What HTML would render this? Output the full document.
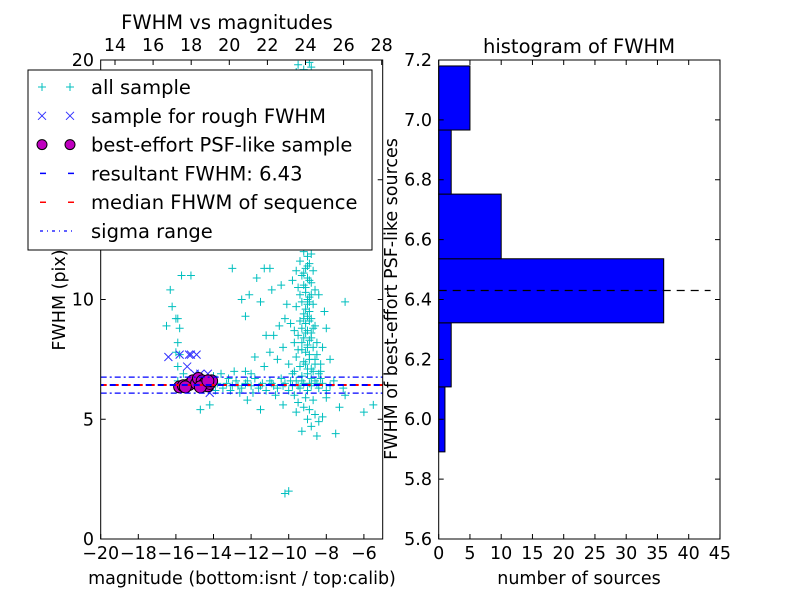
<!DOCTYPE html>
<html><head><meta charset="utf-8"><style>
body{margin:0;background:#fff}
svg{font-family:"DejaVu Sans","Liberation Sans",sans-serif}
</style></head><body>
<svg id="c" width="800" height="600" xmlns="http://www.w3.org/2000/svg"></svg>
<script>
const allSample=[[-16.3,10.4],[-16.2,9.7],[-16.0,9.2],[-15.9,9.2],[-16.5,8.9],[-15.8,8.8],[-15.9,8.2],[-15.8,7.7],[-16,7.8],[-15.7,11.0],[-15.2,11.0],[-15.9,7.2],[-15.6,6.9],[-15.9,6.6],
[-9.2,12.0],[-9.0,11.8],[-9.4,11.6],[-8.9,11.5],[-9.1,11.3],[-9.6,11.2],[-8.7,11.2],[-9.3,11.0],[-9.0,10.9],[-9.8,10.8],[-8.8,10.7],[-9.2,10.6],[-9.5,10.5],[-8.6,10.4],[-9.1,10.3],[-9.4,10.2],[-8.9,10.1],[-9.0,10.0],[-9.3,9.9],[-8.7,9.8],[-9.6,9.7],[-9.1,9.6],[-8.9,9.5],[-9.2,9.4],[-9.0,9.3],[-8.8,9.2],[-9.4,9.1],[-9.1,9.0],[-8.6,8.9],[-9.3,8.8],[-9.0,8.7],[-8.8,8.6],[-9.5,8.5],[-9.2,8.4],[-8.9,8.3],[-9.7,8.2],[-9.0,8.1],[-8.7,8.0],[-9.3,7.9],[-9.1,7.8],[-8.5,7.7],[-9.6,7.6],[-8.9,7.5],[-9.2,7.4],[-8.6,7.3],[-9.4,7.2],[-9.0,7.1],[-8.7,7.0],[-9.8,6.9],[-8.4,6.9],[-9.3,6.8],[-8.8,6.7],[-10.2,9.2],[-10.5,8.9],[-10.8,8.5],[-10.3,8.0],[-11.0,7.8],[-10.6,7.5],[-11.3,7.2],[-10.0,7.3],[-11.8,7.6],[-12.3,7.0],[-12.0,6.9],[-10.9,10.4],[-11.5,9.9],[-10.4,10.6],[-12.3,9.3],[-11.2,8.5],[-10.1,9.8],[-9.9,9.0],[-9.7,8.7],[-8.2,8.0],[-8.3,7.3],[-7.0,9.9],[-8.1,9.5],[-8.4,10.2],[-8.0,8.8],[-7.8,7.5],[-7.6,6.6],[-7.1,6.3],
[-9.0,11.4],[-8.9,10.8],[-9.1,10.5],[-8.8,10.2],[-9.0,9.8],[-8.9,9.1],[-9.1,8.6],[-8.8,8.4],[-9.0,8.0],[-8.9,7.7],[-9.1,7.3],[-8.8,7.1],[-9.0,6.9],[-8.9,9.9],[-9.2,9.2],[-8.7,8.8],[-9.3,8.2],[-8.6,7.5],[-9.5,7.9],[-8.5,8.2],[-9.7,7.0],[-8.3,7.0],[-9.2,11.1],[-8.8,11.9],
[-12.1,10.2],[-11.7,10.9],[-11.0,11.3],[-11.3,11.3],[-13.0,11.3],[-12.5,10.0],
[-13.8,6.5],[-13.5,6.3],[-13.2,6.7],[-13.0,6.4],[-12.8,6.6],[-12.5,6.3],[-12.3,6.5],[-12.0,6.4],[-11.8,6.7],[-11.6,6.3],[-11.4,6.5],[-11.2,6.2],[-11.0,6.6],[-10.8,6.4],[-10.6,6.3],[-10.4,6.7],[-10.2,6.5],[-10.0,6.2],[-9.8,6.4],[-9.6,6.6],[-9.4,6.3],[-9.2,6.5],[-9.0,6.2],[-8.8,6.4],[-8.6,6.6],[-8.4,6.3],[-8.2,6.5],[-8.0,6.2],[-7.8,6.4],[-13.6,6.9],[-12.9,7.0],[-13.9,6.2],[-14.0,6.8],[-12.6,6.1],[-11.9,6.1],[-10.7,6.0],[-9.7,6.0],[-9.1,5.9],[-8.7,5.8],[-13.1,6.2],
[-13.3,6.5],[-12.7,6.4],[-12.2,6.6],[-11.5,6.4],[-10.9,6.5],[-10.3,6.4],[-9.9,6.6],[-9.5,6.4],[-9.3,6.6],[-8.9,6.5],[-8.5,6.5],[-8.3,6.7],
[-9.5,5.7],[-9.2,5.5],[-8.9,5.4],[-8.6,5.2],[-9.0,5.0],[-8.4,4.9],[-8.8,4.7],[-8.5,4.3],[-7.5,4.4],[-9.6,5.3],[-10.3,5.6],[-11.5,5.4],[-12.2,5.8],[-14.2,5.6],[-14.7,5.4],[-6.0,5.3],[-5.5,5.6],[-7.3,5.5],[-7.0,6.0],[-8.0,5.9],[-10.2,1.9],[-10.0,2.0],[-9.3,4.5],[-8.2,5.1],
[-9.5,19.8],[-8.9,19.9],[-9.2,19.6],[-9.6,19.5],[-8.8,19.7]];
const roughSample=[[-16.4,7.6],[-15.8,7.7],[-15.3,7.7],[-15.2,7.7],[-14.9,7.7],[-15.4,7.2],[-15.0,6.9],[-14.7,6.9],[-14.3,6.9],[-14.9,6.6],[-14.6,6.4],[-14.2,6.1],[-14.6,6.3]];
const psfSample=[[-15.8,6.35],[-15.6,6.4],[-15.3,6.45],[-15.1,6.6],[-14.9,6.5],[-14.8,6.7],[-14.6,6.6],[-14.5,6.45],[-14.4,6.55],[-14.3,6.4],[-14.2,6.5],[-14.1,6.6],[-15.5,6.35],[-14.7,6.35],[-14.3,6.6]];
const resultFWHM=6.43, sigmaLow=6.09, sigmaHigh=6.76;
const binEdges=[5.891,6.108,6.322,6.536,6.752,6.966,7.18];
const binCounts=[1,2,36,10,2,5];
const xTicksBottom=[-20,-18,-16,-14,-12,-10,-8,-6];
const xTicksTop=[14,16,18,20,22,24,26,28];
const yTicksLeft=[0,5,10,15,20];
const xTicksHist=[0,5,10,15,20,25,30,35,40,45];
const yTicksHist=[5.6,5.8,6.0,6.2,6.4,6.6,6.8,7.0,7.2];

const NS="http://www.w3.org/2000/svg",svg=document.getElementById('c');
function el(t,a,p){const e=document.createElementNS(NS,t);for(const k in a)e.setAttribute(k,a[k]);(p||svg).appendChild(e);return e;}
function txt(s,a,p){const e=el('text',a,p);e.textContent=s;return e;}
const L={x0:100.7,x1:382.7,y0:539,y1:60};
const sx=v=>L.x0+(v+20)*18.8, sy=v=>L.y0-v*23.95;
const sxt=v=>381.7-(28-v)*19.05;
const H={x0:438.7,x1:720,y0:539,y1:60};
const hx=v=>H.x0+v*6.25, hy=v=>H.y0-(v-5.6)*299.4;
const FS=17.5;

const cp=el('clipPath',{id:'cl'});el('rect',{x:L.x0,y:L.y1,width:L.x1-L.x0,height:L.y0-L.y1},cp);
const gL=el('g',{'clip-path':'url(#cl)'});

allSample.forEach(p=>{const x=sx(p[0]),y=sy(p[1]);const e=el('path',{d:`M${x-4} ${y}H${x+4}M${x} ${y-4}V${y+4}`,stroke:'#00bfbf','stroke-width':1},gL);
});
roughSample.forEach(p=>{const x=sx(p[0]),y=sy(p[1]);const e=el('path',{d:`M${x-4} ${y-4}L${x+4} ${y+4}M${x-4} ${y+4}L${x+4} ${y-4}`,stroke:'#3030ff','stroke-width':1},gL);
});
psfSample.forEach(p=>{const e=el('circle',{cx:sx(p[0]),cy:sy(p[1]),r:6,fill:'#bf00bf',stroke:'#000','stroke-width':1},gL);
});
let ln=el('line',{x1:L.x0,x2:L.x1,y1:sy(resultFWHM),y2:sy(resultFWHM),stroke:'#ff0000','stroke-width':2,'stroke-dasharray':'6,6'},gL);

ln=el('line',{x1:L.x0,x2:L.x1,y1:sy(resultFWHM),y2:sy(resultFWHM),stroke:'#0000ff','stroke-width':2,'stroke-dasharray':'6,6','stroke-dashoffset':3},gL);

[sigmaLow,sigmaHigh].forEach(v=>{const e=el('line',{x1:L.x0,x2:L.x1,y1:sy(v),y2:sy(v),stroke:'#0000ff','stroke-width':1.3,'stroke-dasharray':'6,3,2,3'},gL);
});
el('rect',{x:L.x0,y:L.y1,width:L.x1-L.x0,height:L.y0-L.y1,fill:'none',stroke:'#000'});
xTicksBottom.forEach(v=>{const x=sx(v);el('path',{d:`M${x} ${L.y0}v-5`,stroke:'#000'});const t=txt('\u2212'+(-v),{x:x,y:559,'text-anchor':'middle','font-size':FS});});
xTicksTop.forEach(v=>{const x=sxt(v);el('path',{d:`M${x} ${L.y1}v5`,stroke:'#000'});const t=txt(v,{x:x,y:51,'text-anchor':'middle','font-size':FS});});
yTicksLeft.forEach(v=>{const y=sy(v);el('path',{d:`M${L.x0} ${y}h5M${L.x1} ${y}h-5`,stroke:'#000'});const t=txt(v,{x:94,y:y+6,'text-anchor':'end','font-size':FS});});
txt('FWHM vs magnitudes',{x:227,y:29,'text-anchor':'middle','font-size':19.5,});
txt('magnitude (bottom:isnt / top:calib)',{x:242,y:584,'text-anchor':'middle','font-size':FS,});
txt('FWHM (pix)',{x:0,y:0,transform:'translate(65,300) rotate(-90)','text-anchor':'middle','font-size':FS,});
const lg=el('g',{});
el('rect',{x:28,y:70,width:344,height:180,fill:'#fff',stroke:'#000'},lg);
const rows=['all sample','sample for rough FWHM','best-effort PSF-like sample','resultant FWHM: 6.43','median FHWM of sequence','sigma range'];
rows.forEach((s,i)=>{const y=87+i*28.8;const e=txt(s,{x:91,y:y+7,'font-size':19.5},lg);
[42,70].forEach(x=>{
if(i==0)el('path',{d:`M${x-4} ${y}H${x+4}M${x} ${y-4}V${y+4}`,stroke:'#00bfbf'},lg);
if(i==1)el('path',{d:`M${x-4} ${y-4}L${x+4} ${y+4}M${x-4} ${y+4}L${x+4} ${y-4}`,stroke:'#3030ff'},lg);
if(i==2)el('circle',{cx:x,cy:y,r:5,fill:'#bf00bf',stroke:'#000'},lg);});
if(i==3)el('line',{x1:40,x2:74,y1:y,y2:y,stroke:'#0000ff','stroke-width':1.5,'stroke-dasharray':'6,22'},lg);
if(i==4)el('line',{x1:40,x2:74,y1:y,y2:y,stroke:'#ff0000','stroke-width':1.5,'stroke-dasharray':'6,22'},lg);
if(i==5)el('line',{x1:40,x2:74,y1:y,y2:y,stroke:'#0000ff','stroke-width':1.3,'stroke-dasharray':'3,4,1,4'},lg);});
binCounts.forEach((c,i)=>{const e=el('rect',{x:H.x0,y:hy(binEdges[i+1]),width:hx(c)-H.x0,height:hy(binEdges[i])-hy(binEdges[i+1]),fill:'#0000ff',stroke:'#000'});
});
ln=el('line',{x1:H.x0,x2:hx(43.5),y1:hy(resultFWHM),y2:hy(resultFWHM),stroke:'#000','stroke-width':1.3,'stroke-dasharray':'8,6'});

el('rect',{x:H.x0,y:H.y1,width:H.x1-H.x0,height:H.y0-H.y1,fill:'none',stroke:'#000'});
xTicksHist.forEach(v=>{const x=hx(v);el('path',{d:`M${x} ${H.y0}v-5M${x} ${H.y1}v5`,stroke:'#000'});const t=txt(v,{x:x,y:559,'text-anchor':'middle','font-size':FS});});
yTicksHist.forEach(v=>{const y=hy(v);el('path',{d:`M${H.x0} ${y}h5M${H.x1} ${y}h-5`,stroke:'#000'});const t=txt(v.toFixed(1),{x:432,y:y+6,'text-anchor':'end','font-size':FS});});
txt('histogram of FWHM',{x:579,y:53,'text-anchor':'middle','font-size':19.5,});
txt('number of sources',{x:579,y:584,'text-anchor':'middle','font-size':FS,});
txt('FWHM of best-effort PSF-like sources',{x:0,y:0,transform:'translate(397,299) rotate(-90)','text-anchor':'middle','font-size':FS,});
</script>
</body></html>
